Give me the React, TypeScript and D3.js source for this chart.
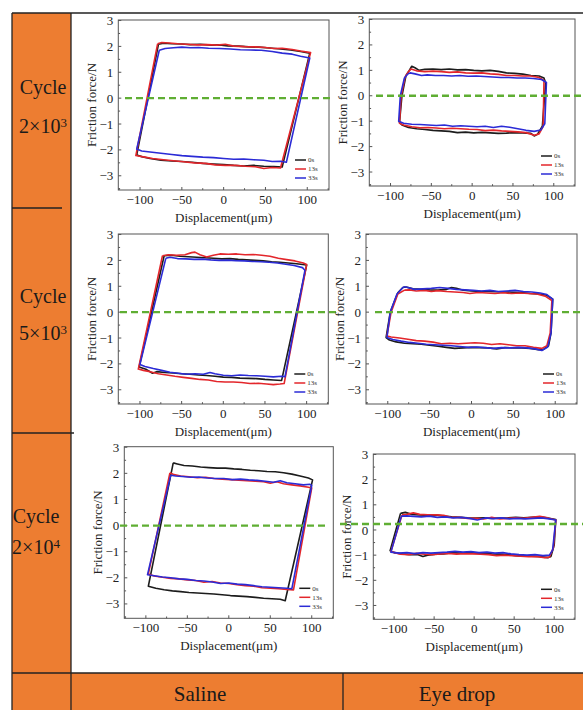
import React from "react";
import * as d3 from "d3";

type Pt = [number, number];

// ---------- labels ----------
const SERIES_NAMES = ["0s", "13s", "33s"];
const SERIES_COLORS = ["#1c1c1c", "#e3262b", "#2b2bd6"];
const X_TICKS = [-100, -50, 0, 50, 100];
const X_MINOR = [-125, -75, -25, 25, 75, 125];
const Y_TICKS = [-3, -2, -1, 0, 1, 2, 3];
const Y_MINOR = [-3.5, -2.5, -1.5, -0.5, 0.5, 1.5, 2.5];
const ROW_BASE = ["2", "5", "2"];
const ROW_EXP = ["3", "3", "4"];
const ROW_WORD = "Cycle";
const COLUMN_LABELS = ["Saline", "Eye drop"];
const REF_LEVEL = [0, 0, 0, 0, 0, 0.24];
const X_TITLE = "Displacement(\u03bcm)";
const Y_TITLE = "Friction force/N";

// ---------- data: friction loops (displacement µm, force N) ----------
const p1_0s: Pt[] = [[-78,2.08],[-72,2.12],[-62,2.1],[-50,2.09],[-40,2.07],[-28,2.08],[-15,2.05],[-5,2.06],[5,2.02],[18,2.01],[30,1.98],[42,1.97],[55,1.94],[68,1.9],[80,1.86],[92,1.8],[103,1.74],[70,-2.66],[60,-2.64],[48,-2.63],[36,-2.6],[24,-2.62],[12,-2.6],[0,-2.57],[-12,-2.55],[-25,-2.52],[-38,-2.48],[-50,-2.45],[-62,-2.43],[-75,-2.4],[-88,-2.33],[-98,-2.26],[-104,-2.2]];
const p1_13s: Pt[] = [[-79,2.1],[-74,2.15],[-65,2.13],[-55,2.1],[-45,2.08],[-32,2.06],[-20,2.07],[-8,2.05],[2,2.08],[12,2.01],[25,1.99],[38,1.98],[50,1.96],[60,1.92],[70,1.93],[82,1.88],[92,1.82],[104,1.76],[68,-2.7],[58,-2.68],[48,-2.72],[38,-2.65],[26,-2.63],[14,-2.6],[2,-2.6],[-10,-2.58],[-22,-2.52],[-35,-2.5],[-48,-2.46],[-60,-2.42],[-72,-2.38],[-85,-2.33],[-96,-2.27],[-105,-2.22]];
const p1_33s: Pt[] = [[-77,1.85],[-70,1.92],[-60,1.95],[-50,1.97],[-40,1.95],[-30,1.96],[-18,1.93],[-5,1.92],[8,1.9],[20,1.87],[32,1.86],[45,1.85],[58,1.8],[70,1.74],[82,1.7],[92,1.62],[103,1.55],[75,-2.48],[68,-2.44],[58,-2.45],[48,-2.4],[36,-2.38],[24,-2.35],[12,-2.36],[0,-2.33],[-12,-2.3],[-25,-2.28],[-38,-2.25],[-50,-2.22],[-62,-2.18],[-75,-2.13],[-88,-2.08],[-98,-2.04],[-104,-1.97]];

const p2_0s: Pt[] = [[-77,1.0],[-74,1.16],[-70,1.1],[-65,1.0],[-58,1.04],[-48,1.05],[-38,1.03],[-28,1.05],[-18,1.02],[-8,1.03],[2,1.0],[12,0.98],[22,1.0],[32,0.96],[42,0.9],[52,0.88],[62,0.85],[72,0.8],[82,0.78],[88,0.7],[90,0.5],[86,-1.2],[80,-1.52],[76,-1.58],[72,-1.48],[62,-1.46],[52,-1.45],[42,-1.47],[32,-1.48],[22,-1.46],[12,-1.44],[2,-1.46],[-8,-1.43],[-18,-1.45],[-28,-1.4],[-38,-1.38],[-48,-1.36],[-58,-1.33],[-68,-1.3],[-78,-1.25],[-86,-1.15],[-89,-1.05],[-86,0.0],[-81,0.8]];
const p2_13s: Pt[] = [[-78,0.95],[-75,1.05],[-68,0.98],[-58,0.95],[-48,0.97],[-38,0.95],[-28,0.92],[-18,0.94],[-8,0.9],[2,0.89],[12,0.9],[22,0.86],[32,0.84],[42,0.8],[52,0.8],[62,0.78],[72,0.78],[82,0.72],[88,0.6],[87,-1.2],[82,-1.5],[76,-1.55],[66,-1.45],[56,-1.42],[46,-1.4],[36,-1.38],[26,-1.35],[16,-1.37],[6,-1.33],[-4,-1.32],[-14,-1.3],[-24,-1.28],[-34,-1.3],[-44,-1.27],[-54,-1.25],[-64,-1.26],[-74,-1.22],[-84,-1.15],[-89,-1.08],[-87,0.0],[-82,0.75]];
const p2_33s: Pt[] = [[-79,0.85],[-76,0.9],[-70,0.86],[-62,0.8],[-55,0.82],[-45,0.8],[-35,0.8],[-25,0.78],[-15,0.8],[-5,0.77],[5,0.78],[15,0.76],[25,0.74],[35,0.72],[45,0.72],[55,0.7],[65,0.7],[75,0.68],[85,0.64],[91,0.52],[89,-1.1],[84,-1.35],[76,-1.4],[66,-1.36],[56,-1.3],[46,-1.24],[36,-1.2],[26,-1.25],[16,-1.2],[6,-1.22],[-4,-1.2],[-14,-1.18],[-24,-1.2],[-34,-1.15],[-44,-1.17],[-54,-1.15],[-64,-1.13],[-74,-1.12],[-84,-1.08],[-90,-1.0],[-88,0.0],[-83,0.7]];

const p3_0s: Pt[] = [[-71,2.18],[-62,2.2],[-52,2.16],[-42,2.14],[-32,2.12],[-22,2.1],[-12,2.08],[-2,2.06],[8,2.07],[18,2.04],[28,2.02],[38,2.0],[48,1.98],[58,1.95],[68,1.93],[78,1.9],[88,1.87],[100,1.82],[70,-2.64],[60,-2.62],[50,-2.6],[40,-2.57],[30,-2.56],[20,-2.55],[10,-2.52],[0,-2.51],[-10,-2.48],[-20,-2.45],[-30,-2.43],[-40,-2.4],[-50,-2.38],[-60,-2.35],[-70,-2.33],[-80,-2.3],[-85,-2.36],[-92,-2.22],[-101,-2.12]];
const p3_13s: Pt[] = [[-73,2.18],[-66,2.22],[-56,2.2],[-46,2.22],[-38,2.3],[-34,2.32],[-28,2.22],[-20,2.13],[-12,2.2],[-4,2.25],[6,2.24],[16,2.25],[26,2.22],[36,2.23],[46,2.2],[56,2.16],[66,2.08],[76,2.03],[86,1.98],[96,1.9],[100,1.84],[73,-2.76],[68,-2.78],[60,-2.8],[52,-2.78],[42,-2.75],[32,-2.76],[22,-2.72],[12,-2.7],[2,-2.7],[-8,-2.68],[-18,-2.62],[-28,-2.6],[-38,-2.56],[-48,-2.52],[-58,-2.48],[-68,-2.43],[-78,-2.38],[-88,-2.3],[-96,-2.25],[-102,-2.2]];
const p3_33s: Pt[] = [[-69,2.08],[-64,2.12],[-55,2.07],[-45,2.06],[-35,2.04],[-25,2.05],[-15,2.02],[-5,2.0],[5,2.01],[15,1.99],[25,1.98],[35,1.96],[45,1.95],[55,1.93],[65,1.9],[75,1.85],[85,1.8],[95,1.72],[98,1.62],[74,-2.5],[70,-2.48],[60,-2.5],[50,-2.48],[40,-2.46],[30,-2.45],[20,-2.43],[10,-2.46],[0,-2.44],[-10,-2.38],[-16,-2.33],[-24,-2.4],[-34,-2.38],[-44,-2.4],[-54,-2.36],[-64,-2.32],[-74,-2.25],[-84,-2.18],[-94,-2.1],[-100,-2.02]];

const p4_0s: Pt[] = [[-82,0.95],[-78,0.97],[-70,0.9],[-60,0.88],[-50,0.86],[-40,0.85],[-30,0.88],[-24,0.95],[-18,0.92],[-10,0.85],[0,0.82],[10,0.8],[20,0.8],[30,0.79],[40,0.78],[50,0.77],[60,0.76],[70,0.72],[80,0.7],[90,0.65],[97,0.5],[95,-0.8],[92,-1.3],[86,-1.44],[80,-1.45],[70,-1.4],[60,-1.38],[50,-1.38],[40,-1.37],[30,-1.42],[20,-1.38],[10,-1.37],[0,-1.36],[-10,-1.38],[-20,-1.4],[-30,-1.36],[-40,-1.32],[-50,-1.28],[-60,-1.24],[-70,-1.22],[-80,-1.2],[-90,-1.15],[-98,-1.08],[-102,-0.98],[-97,0.0],[-88,0.75]];
const p4_13s: Pt[] = [[-80,0.85],[-74,0.86],[-66,0.82],[-56,0.84],[-48,0.8],[-40,0.83],[-30,0.8],[-20,0.78],[-10,0.76],[-2,0.72],[8,0.76],[18,0.74],[28,0.72],[38,0.75],[48,0.72],[58,0.74],[68,0.72],[78,0.7],[88,0.62],[96,0.45],[94,-0.8],[90,-1.3],[84,-1.4],[74,-1.36],[64,-1.3],[54,-1.3],[44,-1.26],[34,-1.22],[24,-1.25],[14,-1.2],[4,-1.18],[-6,-1.2],[-16,-1.22],[-26,-1.2],[-36,-1.22],[-46,-1.16],[-56,-1.12],[-66,-1.1],[-76,-1.05],[-86,-1.0],[-96,-0.96],[-101,-0.92],[-96,0.0],[-88,0.7]];
const p4_33s: Pt[] = [[-81,0.98],[-76,0.95],[-68,0.88],[-58,0.9],[-48,0.92],[-38,0.95],[-28,0.92],[-18,0.88],[-8,0.86],[2,0.84],[12,0.82],[22,0.84],[32,0.8],[42,0.82],[52,0.84],[62,0.8],[72,0.78],[82,0.74],[90,0.68],[97,0.5],[95,-0.8],[91,-1.35],[84,-1.48],[76,-1.42],[66,-1.38],[56,-1.36],[46,-1.38],[36,-1.37],[26,-1.4],[16,-1.37],[6,-1.35],[-4,-1.36],[-14,-1.33],[-24,-1.3],[-34,-1.28],[-44,-1.26],[-54,-1.24],[-64,-1.2],[-74,-1.17],[-84,-1.12],[-94,-1.06],[-101,-0.98],[-97,0.0],[-89,0.7]];

const p5_0s: Pt[] = [[-67,2.4],[-62,2.36],[-54,2.3],[-44,2.28],[-34,2.24],[-24,2.22],[-14,2.2],[-4,2.2],[6,2.17],[16,2.15],[26,2.12],[36,2.1],[46,2.07],[56,2.06],[66,2.02],[76,1.97],[86,1.9],[96,1.82],[101,1.75],[68,-2.88],[62,-2.82],[52,-2.8],[42,-2.78],[32,-2.75],[22,-2.72],[12,-2.7],[2,-2.68],[-8,-2.65],[-18,-2.62],[-28,-2.6],[-38,-2.58],[-48,-2.56],[-58,-2.53],[-68,-2.5],[-78,-2.46],[-88,-2.4],[-97,-2.32]];
const p5_13s: Pt[] = [[-71,2.02],[-66,1.95],[-58,1.9],[-48,1.87],[-38,1.83],[-28,1.85],[-18,1.8],[-8,1.78],[2,1.76],[12,1.74],[22,1.72],[32,1.7],[42,1.68],[50,1.62],[58,1.68],[66,1.6],[76,1.56],[86,1.52],[96,1.47],[100,1.44],[78,-2.46],[70,-2.45],[60,-2.42],[50,-2.4],[40,-2.38],[30,-2.32],[20,-2.3],[10,-2.26],[0,-2.22],[-10,-2.2],[-20,-2.14],[-30,-2.17],[-40,-2.1],[-50,-2.08],[-60,-2.04],[-70,-2.02],[-80,-1.98],[-90,-1.93],[-97,-1.85]];
const p5_33s: Pt[] = [[-70,1.93],[-64,1.9],[-56,1.88],[-46,1.85],[-36,1.86],[-26,1.82],[-16,1.8],[-6,1.8],[4,1.76],[14,1.78],[24,1.75],[34,1.73],[44,1.7],[54,1.66],[62,1.72],[70,1.64],[80,1.6],[90,1.56],[98,1.58],[100,1.54],[76,-2.42],[70,-2.4],[60,-2.38],[50,-2.36],[40,-2.34],[30,-2.3],[20,-2.26],[10,-2.24],[0,-2.2],[-10,-2.22],[-20,-2.16],[-30,-2.12],[-40,-2.1],[-50,-2.06],[-60,-2.04],[-70,-2.0],[-80,-1.97],[-90,-1.92],[-98,-1.88]];

const p6_0s: Pt[] = [[-92,0.66],[-86,0.7],[-78,0.62],[-68,0.6],[-58,0.58],[-48,0.6],[-38,0.55],[-28,0.52],[-18,0.5],[-8,0.48],[2,0.47],[12,0.48],[22,0.46],[32,0.47],[42,0.48],[52,0.5],[62,0.48],[72,0.5],[82,0.52],[92,0.47],[102,0.42],[100,-0.6],[96,-1.05],[92,-1.1],[82,-1.06],[72,-1.04],[62,-1.04],[52,-1.02],[42,-0.98],[32,-0.96],[22,-0.95],[12,-0.93],[2,-0.92],[-8,-0.9],[-18,-0.92],[-28,-0.9],[-38,-0.95],[-48,-0.96],[-58,-1.0],[-64,-1.05],[-70,-0.98],[-80,-0.98],[-90,-0.95],[-100,-0.9],[-105,-0.82]];
const p6_13s: Pt[] = [[-90,0.6],[-84,0.62],[-76,0.68],[-68,0.62],[-58,0.6],[-48,0.6],[-38,0.58],[-28,0.5],[-18,0.5],[-8,0.46],[2,0.46],[12,0.44],[22,0.5],[32,0.44],[42,0.46],[52,0.48],[62,0.46],[72,0.5],[82,0.54],[92,0.48],[102,0.4],[99,-0.7],[94,-1.08],[88,-1.1],[78,-1.05],[68,-1.06],[58,-1.04],[48,-1.02],[38,-1.0],[28,-1.02],[18,-0.98],[8,-0.96],[-2,-0.95],[-12,-0.94],[-22,-0.96],[-32,-0.93],[-42,-0.95],[-52,-0.98],[-62,-0.96],[-72,-0.93],[-82,-0.98],[-92,-0.96],[-104,-0.86]];
const p6_33s: Pt[] = [[-91,0.55],[-84,0.56],[-76,0.54],[-66,0.52],[-56,0.55],[-46,0.5],[-36,0.52],[-26,0.48],[-16,0.5],[-6,0.46],[4,0.4],[14,0.48],[24,0.45],[34,0.48],[44,0.44],[54,0.46],[64,0.44],[74,0.46],[84,0.48],[94,0.44],[102,0.4],[98,-0.8],[94,-1.0],[86,-1.02],[76,-0.98],[66,-1.0],[56,-0.98],[46,-0.95],[36,-0.9],[26,-0.92],[16,-0.88],[6,-0.9],[-4,-0.86],[-14,-0.88],[-24,-0.85],[-34,-0.88],[-44,-0.9],[-54,-0.92],[-64,-0.9],[-74,-0.94],[-84,-0.9],[-94,-0.92],[-104,-0.88]];

const PANEL_DATA: Pt[][][] = [
  [p1_0s, p1_13s, p1_33s],
  [p2_0s, p2_13s, p2_33s],
  [p3_0s, p3_13s, p3_33s],
  [p4_0s, p4_13s, p4_33s],
  [p5_0s, p5_13s, p5_33s],
  [p6_0s, p6_13s, p6_33s],
];

// ---------- layout (pixels) ----------
const PANEL_BOX = [
  { x0: 118.3, x1: 329, y0: 20, y1: 190, g0: 125, g1: 334 },
  { x0: 369.3, x1: 575, y0: 19, y1: 186, g0: 376, g1: 583 },
  { x0: 118.3, x1: 328.3, y0: 234, y1: 404, g0: 120, g1: 337 },
  { x0: 366, x1: 577, y0: 234, y1: 404, g0: 375, g1: 583 },
  { x0: 124.3, x1: 333.3, y0: 446.7, y1: 618.3, g0: 120, g1: 328 },
  { x0: 373.3, x1: 575, y0: 454, y1: 619.3, g0: 340, g1: 583 },
];
const X_DOMAIN: [number, number] = [-126, 126];
const Y_DOMAIN: [number, number] = [-3.55, 3.02];
const FONT = "'Liberation Serif', 'Times New Roman', serif";
const ORANGE = "#ED7D31";
const GREEN = "#5fae33";
const fmt = d3.format("d");

function Panel({ idx }: { idx: number }) {
  const b = PANEL_BOX[idx];
  const x = d3.scaleLinear().domain(X_DOMAIN).range([b.x0, b.x1]);
  const y = d3.scaleLinear().domain(Y_DOMAIN).range([b.y1, b.y0]);
  const line = d3
    .line<Pt>()
    .x((d) => x(d[0]))
    .y((d) => y(d[1]))
    .curve(d3.curveLinear);
  const axisColor = "#555";
  const cx = (b.x0 + b.x1) / 2;
  const cy = (b.y0 + b.y1) / 2;
  return (
    <g>
      {PANEL_DATA[idx].map((pts, i) => (
        <path
          key={i}
          d={line([...pts, pts[0]]) || ""}
          fill="none"
          stroke={SERIES_COLORS[i]}
          strokeWidth={1.6}
          strokeLinejoin="round"
        />
      ))}
      <rect x={b.x0} y={b.y0} width={b.x1 - b.x0} height={b.y1 - b.y0} fill="none" stroke={axisColor} strokeWidth={1} />
      {Y_TICKS.map((t) => (
        <g key={"y" + t}>
          <line x1={b.x0} x2={b.x0 + 3} y1={y(t)} y2={y(t)} stroke={axisColor} />
          <text x={b.x0 - 5} y={y(t)} dy="0.35em" textAnchor="end" fontSize={13} fontFamily={FONT} fill="#222">
            {fmt(t)}
          </text>
        </g>
      ))}
      {Y_MINOR.filter((t) => y(t) >= b.y0 && y(t) <= b.y1).map((t) => (
        <line key={"ym" + t} x1={b.x0} x2={b.x0 + 1.8} y1={y(t)} y2={y(t)} stroke={axisColor} />
      ))}
      {X_TICKS.map((t) => (
        <g key={"x" + t}>
          <line x1={x(t)} x2={x(t)} y1={b.y1} y2={b.y1 - 3} stroke={axisColor} />
          <text x={x(t)} y={b.y1 + 14} textAnchor="middle" fontSize={13} fontFamily={FONT} fill="#222">
            {fmt(t)}
          </text>
        </g>
      ))}
      {X_MINOR.filter((t) => x(t) > b.x0 && x(t) < b.x1).map((t) => (
        <line key={"xm" + t} x1={x(t)} x2={x(t)} y1={b.y1} y2={b.y1 - 1.8} stroke={axisColor} />
      ))}
      <text x={cx} y={b.y1 + 32} textAnchor="middle" fontSize={13} fontFamily={FONT} fill="#222">
        {X_TITLE}
      </text>
      <text
        transform={`translate(${b.x0 - 27},${cy}) rotate(-90)`}
        textAnchor="middle"
        dy="0.35em"
        fontSize={13}
        fontFamily={FONT}
        fill="#222"
      >
        {Y_TITLE}
      </text>
      <line
        x1={b.g0}
        x2={b.g1}
        y1={y(REF_LEVEL[idx])}
        y2={y(REF_LEVEL[idx])}
        stroke={GREEN}
        strokeWidth={2.4}
        strokeDasharray="7,4"
      />
      {SERIES_NAMES.map((n, i) => {
        const ly = b.y1 - 30 + i * 9;
        return (
          <g key={n}>
            <line x1={b.x1 - 34} x2={b.x1 - 23} y1={ly} y2={ly} stroke={SERIES_COLORS[i]} strokeWidth={1.5} />
            <text x={b.x1 - 21} y={ly} dy="0.35em" fontSize={7} fontFamily={FONT} fill="#333">
              {n}
            </text>
          </g>
        );
      })}
    </g>
  );
}

const ROW_Y = [
  { word: 87, num: 126, cx: 43 },
  { word: 296, num: 333, cx: 43 },
  { word: 516, num: 547, cx: 36 },
];

export default function App() {
  const lineColor = "#222";
  return (
    <svg
      width={583}
      height={710}
      style={{ position: "absolute", left: 0, top: 0, background: "#fff" }}
    >
      <rect x={0} y={0} width={583} height={710} fill="#fff" />
      <rect x={12} y={13} width={59} height={660} fill={ORANGE} />
      <rect x={12} y={673} width={571} height={37} fill={ORANGE} />
      <line x1={12} x2={583} y1={13} y2={13} stroke={lineColor} strokeWidth={1.3} />
      <line x1={12} x2={12} y1={13} y2={710} stroke={lineColor} strokeWidth={1.3} />
      <line x1={71} x2={71} y1={13} y2={710} stroke={lineColor} strokeWidth={1.3} />
      <line x1={12} x2={62} y1={208} y2={208} stroke={lineColor} strokeWidth={1.3} />
      <line x1={12} x2={74} y1={433} y2={433} stroke={lineColor} strokeWidth={1.3} />
      <line x1={12} x2={583} y1={673} y2={673} stroke={lineColor} strokeWidth={1.3} />
      <line x1={343} x2={343} y1={673} y2={710} stroke={lineColor} strokeWidth={1.3} />
      {ROW_Y.map((r, i) => (
        <g key={i} fontFamily={FONT} fontSize={20} fill="#1a1a1a">
          <text x={r.cx} y={r.word} dy="0.35em" textAnchor="middle">
            {ROW_WORD}
          </text>
          <text x={r.cx} y={r.num} dy="0.35em" textAnchor="middle">
            {ROW_BASE[i]}×10
            <tspan dy="-0.5em" fontSize={13}>
              {ROW_EXP[i]}
            </tspan>
          </text>
        </g>
      ))}
      <text x={200} y={694} dy="0.35em" textAnchor="middle" fontFamily={FONT} fontSize={21} fill="#1a1a1a">
        {COLUMN_LABELS[0]}
      </text>
      <text x={457} y={694} dy="0.35em" textAnchor="middle" fontFamily={FONT} fontSize={21} fill="#1a1a1a">
        {COLUMN_LABELS[1]}
      </text>
      {PANEL_BOX.map((_, i) => (
        <Panel key={i} idx={i} />
      ))}
    </svg>
  );
}
